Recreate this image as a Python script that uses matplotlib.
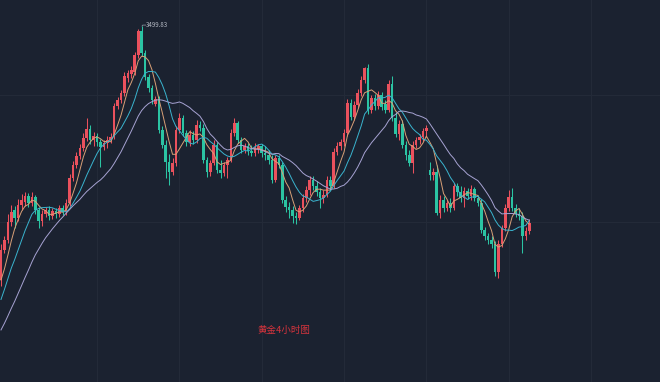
import numpy as np
import pandas as pd
import matplotlib
matplotlib.use('Agg')
import matplotlib.pyplot as plt

# gold 4h candles (price)
opens = [3111, 3157, 3172, 3200, 3218, 3206, 3226, 3231, 3240, 3229,
         3238, 3218, 3202, 3212, 3218, 3209, 3217, 3212, 3222, 3215,
         3229, 3267, 3287, 3301, 3313, 3329, 3342, 3326, 3332, 3322,
         3315, 3321, 3326, 3330, 3378, 3387, 3397, 3420, 3427, 3430,
         3456, 3493, 3459, 3422, 3405, 3381, 3388, 3341, 3318, 3292,
         3277, 3290, 3341, 3359, 3336, 3322, 3333, 3326, 3349, 3344,
         3295, 3277, 3290, 3318, 3280, 3275, 3287, 3295, 3336, 3352,
         3326, 3310, 3316, 3309, 3306, 3312, 3316, 3306, 3302, 3295,
         3264, 3298, 3287, 3234, 3223, 3218, 3209, 3206, 3221, 3237,
         3249, 3264, 3255, 3246, 3237, 3242, 3264, 3255, 3307, 3316,
         3322, 3336, 3382, 3360, 3379, 3397, 3417, 3436, 3371, 3390,
         3377, 3394, 3380, 3371, 3411, 3359, 3334, 3350, 3318, 3302,
         3291, 3318, 3326, 3330, 3339, 3280, 3272, 3277, 3214, 3234,
         3221, 3229, 3222, 3255, 3246, 3237, 3247, 3240, 3250, 3237,
         3229, 3188, 3179, 3172, 3166, 3124, 3167, 3191, 3222, 3238,
         3222, 3212, 3209, 3178, 3187]
highs = [3166, 3179, 3212, 3226, 3225, 3235, 3243, 3246, 3244, 3246,
         3241, 3223, 3218, 3223, 3225, 3222, 3222, 3226, 3226, 3235,
         3274, 3293, 3307, 3319, 3336, 3359, 3348, 3338, 3336, 3327,
         3326, 3332, 3336, 3382, 3391, 3402, 3430, 3433, 3439, 3460,
         3496, 3499.83, 3463, 3426, 3410, 3393, 3393, 3347, 3326, 3304,
         3298, 3347, 3367, 3364, 3341, 3341, 3339, 3356, 3355, 3350,
         3300, 3295, 3326, 3322, 3295, 3292, 3300, 3342, 3359, 3355,
         3330, 3321, 3321, 3318, 3321, 3320, 3320, 3316, 3310, 3302,
         3302, 3302, 3292, 3240, 3230, 3224, 3215, 3226, 3243, 3255,
         3270, 3270, 3262, 3252, 3249, 3270, 3270, 3313, 3322, 3327,
         3342, 3388, 3388, 3385, 3403, 3423, 3437, 3442, 3394, 3396,
         3400, 3399, 3386, 3417, 3423, 3368, 3356, 3356, 3324, 3310,
         3324, 3330, 3334, 3344, 3348, 3292, 3282, 3287, 3241, 3240,
         3233, 3236, 3260, 3260, 3255, 3253, 3252, 3256, 3254, 3242,
         3235, 3193, 3183, 3178, 3171, 3172, 3196, 3228, 3249, 3252,
         3228, 3221, 3215, 3193, 3204]
lows = [3102, 3153, 3168, 3194, 3191, 3202, 3218, 3225, 3223, 3225,
        3212, 3191, 3194, 3208, 3203, 3205, 3206, 3208, 3211, 3211,
        3225, 3263, 3283, 3296, 3309, 3324, 3319, 3316, 3316, 3284,
        3310, 3313, 3321, 3327, 3373, 3382, 3393, 3414, 3420, 3425,
        3451, 3454, 3417, 3399, 3381, 3378, 3336, 3313, 3267, 3257,
        3272, 3286, 3336, 3332, 3316, 3316, 3319, 3321, 3339, 3290,
        3269, 3270, 3287, 3275, 3267, 3270, 3267, 3292, 3332, 3321,
        3306, 3306, 3303, 3301, 3301, 3306, 3300, 3295, 3289, 3260,
        3261, 3282, 3229, 3215, 3206, 3198, 3197, 3203, 3215, 3230,
        3241, 3249, 3240, 3221, 3229, 3238, 3249, 3252, 3302, 3310,
        3316, 3331, 3356, 3356, 3374, 3393, 3412, 3365, 3367, 3371,
        3373, 3371, 3367, 3368, 3354, 3330, 3326, 3313, 3295, 3285,
        3275, 3313, 3319, 3324, 3330, 3264, 3264, 3210, 3206, 3215,
        3217, 3216, 3219, 3240, 3230, 3223, 3235, 3234, 3232, 3224,
        3183, 3172, 3167, 3160, 3117, 3114, 3162, 3186, 3217, 3217,
        3208, 3203, 3153, 3172, 3182]
closes = [3157, 3172, 3200, 3215, 3206, 3226, 3234, 3240, 3229, 3238,
          3218, 3202, 3212, 3218, 3209, 3217, 3212, 3222, 3215, 3229,
          3267, 3287, 3301, 3313, 3329, 3342, 3326, 3332, 3322, 3315,
          3321, 3326, 3330, 3378, 3387, 3397, 3423, 3428, 3433, 3456,
          3493, 3459, 3422, 3405, 3387, 3388, 3341, 3318, 3292, 3277,
          3290, 3341, 3359, 3336, 3322, 3333, 3326, 3349, 3344, 3295,
          3277, 3290, 3318, 3280, 3275, 3287, 3295, 3336, 3352, 3326,
          3310, 3316, 3309, 3306, 3315, 3316, 3306, 3302, 3295, 3264,
          3298, 3287, 3234, 3223, 3218, 3209, 3206, 3221, 3237, 3249,
          3264, 3255, 3246, 3237, 3242, 3264, 3255, 3307, 3316, 3322,
          3336, 3382, 3360, 3379, 3397, 3417, 3436, 3371, 3390, 3377,
          3394, 3376, 3371, 3411, 3359, 3334, 3350, 3318, 3302, 3291,
          3318, 3326, 3330, 3339, 3344, 3272, 3277, 3214, 3234, 3221,
          3229, 3222, 3255, 3246, 3237, 3247, 3240, 3250, 3237, 3229,
          3188, 3179, 3172, 3166, 3124, 3167, 3191, 3222, 3238, 3222,
          3212, 3209, 3178, 3187, 3198]
# closes just before the visible window (only feed the moving averages)
prior_closes = [2970, 2977, 2981, 2986, 2989, 2992, 2997, 2997, 2995, 2998,
                3020, 3035, 3053, 3073, 3078, 3087, 3096, 3105, 3111]

ma_periods = [5, 10, 20]
ma_colors = ['#d9a077', '#3ab4cf', '#a7a3d3']
peak_label = '3499.83'
title = '黄金4小时图'

bg = '#1b2230'
up_c = '#ea515d'
down_c = '#2bc4a3'

plt.rcParams['font.family'] = ['Noto Sans CJK SC', 'DejaVu Sans']

fig = plt.figure(figsize=(6.6, 3.82), dpi=100, facecolor=bg)
ax = fig.add_axes([0, 0, 1, 1])
ax.set_facecolor(bg)

o = np.array(opens, float)
h = np.array(highs, float)
l = np.array(lows, float)
c = np.array(closes, float)
idx = np.arange(len(c))

# grid, very faint like the reference
ax.set_xticks(np.arange(28, 176, 24))
ax.set_yticks([3200, 3395])
ax.grid(True, color='#232a38', lw=0.8)
ax.tick_params(length=0, labelbottom=False, labelleft=False)
for s in ax.spines.values():
    s.set_visible(False)

up = c >= o
cols = np.where(up, up_c, down_c)
ax.vlines(idx, l, h, colors=cols, lw=0.75, zorder=2)
body = np.maximum(np.abs(c - o), 1.2)
ax.bar(idx, body, bottom=np.minimum(o, c), width=0.75, color=cols,
       linewidth=0, zorder=3)

# moving averages
full = pd.Series(prior_closes + closes, dtype=float)
n0 = len(prior_closes)
for p, col in zip(ma_periods, ma_colors):
    ma = full.rolling(p, min_periods=1).mean().to_numpy()[n0:]
    ax.plot(idx, ma, color=col, lw=0.7, zorder=4)

# peak marker
pk = int(np.argmax(h))
ax.plot([pk + 0.1, pk + 0.3, pk + 1.2], [h[pk], h[pk] + 1.5, h[pk] + 1.5],
        color='#9aa0ab', lw=0.5, zorder=5)
ax.text(pk + 1.3, h[pk] + 1.5, peak_label, color='#b5bac4', fontsize=4.4,
        va='center', ha='left', zorder=5)

fig.text(284 / 660, 1 - 330 / 382, title, color='#d8343d', fontsize=6.8,
         ha='center', va='center')

ax.set_xlim(-0.29, 192.1)
ax.set_ylim(2955.2, 3539.7)

fig.savefig('out.png', dpi=100, facecolor=bg)
